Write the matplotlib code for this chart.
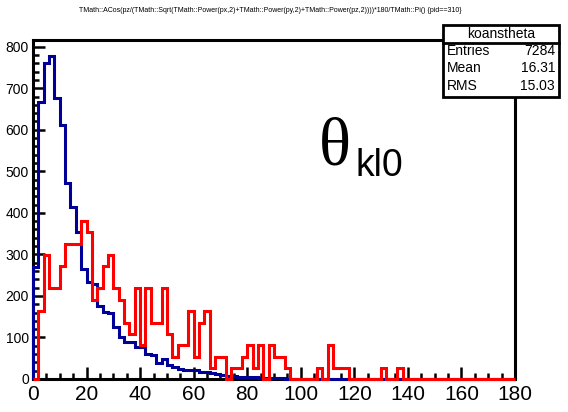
import matplotlib
matplotlib.use('Agg')
import matplotlib.pyplot as plt
import numpy as np
from matplotlib.ticker import MultipleLocator
from matplotlib.patches import Rectangle
from matplotlib.lines import Line2D

# ---------------- data ----------------
x_min, x_max, bin_width = 0, 180, 2

blue_counts = [270, 667, 760, 778, 676, 611, 471, 414, 355, 265,
               233, 228, 176, 162, 158, 125, 101, 90, 88, 78,
               76, 59, 57, 38, 47, 34, 28, 24, 22, 22,
               21, 18, 17, 14, 13, 10, 8, 7, 6, 5,
               5, 4, 3, 3, 2, 2, 2, 1, 1, 1,
               1, 0, 1, 0, 0, 1, 0, 0, 0, 0,
               0, 0, 0, 0, 0, 0, 0, 0, 0, 0,
               0, 0, 0, 0, 0, 0, 0, 0, 0, 0,
               0, 0, 0, 0, 0, 0, 0, 0, 0, 0]

red_counts = [0, 163, 299, 218, 218, 272, 326, 326, 326, 381,
              354, 190, 218, 272, 299, 218, 190, 136, 109, 218,
              82, 218, 136, 136, 218, 109, 54, 82, 82, 163,
              54, 136, 163, 27, 54, 54, 0, 27, 27, 54,
              82, 27, 82, 0, 82, 54, 54, 27, 0, 0,
              0, 0, 0, 27, 0, 82, 27, 27, 27, 0,
              0, 0, 0, 0, 0, 27, 0, 0, 27, 0,
              0, 0, 0, 0, 0, 0, 0, 0, 0, 0,
              0, 0, 0, 0, 0, 0, 0, 0, 0, 0]

title = ("TMath::ACos(pz/(TMath::Sqrt(TMath::Power(px,2)+TMath::Power(py,2)"
         "+TMath::Power(pz,2))))*180/TMath::Pi() {pid==310}")
stats_name = "koanstheta"
stats_labels = ["Entries", "Mean", "RMS"]
stats_values = ["7284", "16.31", "15.03"]
y_max = 816

# ---------------- figure ----------------
W, H = 568, 412
fig = plt.figure(figsize=(W / 100, H / 100), dpi=100)
narrow = ['Liberation Sans Narrow', 'Liberation Sans', 'DejaVu Sans']


def fx(px):
    return px / W


def fy(py):
    return 1 - py / H


ax = fig.add_axes([fx(33), fy(379), fx(515) - fx(33), fy(40) - fy(379)])
edges = np.arange(x_min, x_max + bin_width, bin_width)

ax.stairs(blue_counts, edges, color='#000099', lw=2.2, zorder=3, clip_on=False)
ax.stairs(red_counts, edges, color='#ff0000', lw=2.2, zorder=4, clip_on=False)

ax.set_xlim(x_min, x_max)
ax.set_ylim(0, y_max)
for s in ax.spines.values():
    s.set_linewidth(2.2)
    s.set_zorder(2)

ax.xaxis.set_major_locator(MultipleLocator(20))
ax.xaxis.set_minor_locator(MultipleLocator(5))
ax.yaxis.set_major_locator(MultipleLocator(100))
ax.yaxis.set_minor_locator(MultipleLocator(20))
ax.tick_params(which='major', direction='in', length=8.5, width=1.8,
               top=False, right=False)
ax.tick_params(which='minor', direction='in', length=4.6, width=1.8,
               top=False, right=False)
ax.tick_params(axis='x', pad=4)
ax.tick_params(axis='y', pad=3)
for lab in ax.get_xticklabels():
    lab.set_fontfamily(narrow)
    lab.set_fontsize(15)
for lab in ax.get_yticklabels():
    lab.set_fontfamily(narrow)
    lab.set_fontsize(10)

# title
fig.text(fx(270), fy(11), title, ha='center', va='center',
         fontsize=5, family=narrow)

# theta label
fig.text(fx(319), fy(165), "\u03b8", fontsize=48, family=['Liberation Serif'],
         ha='left', va='baseline')
fig.text(fx(355), fy(176), "kl0", fontsize=27, family=['Liberation Sans'],
         ha='left', va='baseline')

# stats box
bx0, bx1, by0, by1, byh = 443, 559, 25, 97, 43
fig.add_artist(Rectangle((fx(bx0), fy(by1)), fx(bx1) - fx(bx0), fy(by0) - fy(by1),
                         transform=fig.transFigure, facecolor='white',
                         edgecolor='black', lw=2, zorder=10))
fig.add_artist(Line2D([fx(bx0), fx(bx1)], [fy(byh), fy(byh)],
                      transform=fig.transFigure, color='black', lw=2, zorder=11))
fig.text(fx((bx0 + bx1) / 2), fy(34.5), stats_name, ha='center', va='center',
         fontsize=10, family=narrow, zorder=12)
row_y = [51, 68, 86]
for lbl, val, yy in zip(stats_labels, stats_values, row_y):
    fig.text(fx(447), fy(yy), lbl, ha='left', va='center', fontsize=10,
             family=narrow, zorder=12)
    fig.text(fx(555), fy(yy), val, ha='right', va='center', fontsize=10,
             family=narrow, zorder=12)

fig.savefig('out.png', dpi=100)
